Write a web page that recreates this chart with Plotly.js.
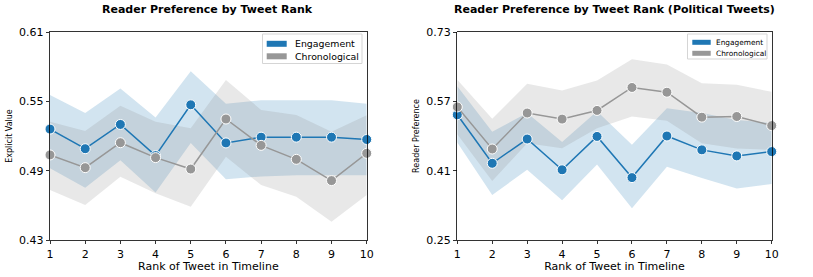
<!DOCTYPE html>
<html>
<head>
<meta charset="utf-8">
<script src="https://cdn.plot.ly/plotly-3.0.1.min.js"></script>
<style>html,body{margin:0;padding:0;background:#fff;}#chart{width:813px;height:277px;}</style>
</head>
<body>
<div id="chart"></div>
<script>
// Shared x categories
const ranks = [1, 2, 3, 4, 5, 6, 7, 8, 9, 10];

// Left panel: all tweets (Explicit Value)
const engAll      = [0.526, 0.509, 0.530, 0.503, 0.547, 0.514, 0.519, 0.519, 0.519, 0.517];
const engAllHi    = [0.5555, 0.540, 0.561, 0.536, 0.576, 0.548, 0.551, 0.551, 0.551, 0.548];
const engAllLo    = [0.492, 0.4753, 0.499, 0.471, 0.514, 0.4825, 0.485, 0.486, 0.486, 0.486];
const chrAll      = [0.5036, 0.4926, 0.5142, 0.5013, 0.4914, 0.5347, 0.5119, 0.4998, 0.4814, 0.505];
const chrAllHi    = [0.5324, 0.5243, 0.5462, 0.5324, 0.5267, 0.5685, 0.5425, 0.5382, 0.5237, 0.538];
const chrAllLo    = [0.4733, 0.4603, 0.4848, 0.4704, 0.4588, 0.502, 0.4776, 0.4675, 0.4459, 0.469];

// Right panel: political tweets (Reader Preference)
const engPol      = [0.539, 0.427, 0.483, 0.412, 0.489, 0.394, 0.490, 0.458, 0.444, 0.454];
const engPolHi    = [0.605, 0.500, 0.543, 0.476, 0.547, 0.470, 0.554, 0.543, 0.527, 0.520];
const engPolLo    = [0.475, 0.354, 0.412, 0.342, 0.424, 0.323, 0.419, 0.393, 0.369, 0.379];
const chrPol      = [0.557, 0.460, 0.543, 0.529, 0.549, 0.602, 0.591, 0.5335, 0.535, 0.514];
const chrPolHi    = [0.620, 0.530, 0.6105, 0.595, 0.618, 0.667, 0.655, 0.612, 0.608, 0.592];
const chrPolLo    = [0.494, 0.386, 0.4735, 0.462, 0.508, 0.535, 0.525, 0.473, 0.461, 0.458];

// Tick labels
const leftTicks  = [0.43, 0.49, 0.55, 0.61];
const rightTicks = [0.25, 0.41, 0.57, 0.73];

const seriesNames = ['Engagement', 'Chronological'];
const BLUE = '#1f77b4';
const GREY = '#979797';
const BLUE_BAND = 'rgba(31,119,180,0.2)';
const GREY_BAND = 'rgba(140,140,140,0.2)';
const seriesColors = [BLUE, GREY];

function band(hi, lo, color, xa, ya) {
  return [
    {x: ranks, y: hi, xaxis: xa, yaxis: ya, mode: 'lines', line: {width: 0, color: color}, hoverinfo: 'skip', showlegend: false},
    {x: ranks, y: lo, xaxis: xa, yaxis: ya, mode: 'lines', line: {width: 0, color: color}, fill: 'tonexty', fillcolor: color, hoverinfo: 'skip', showlegend: false}
  ];
}
function line(y, color, xa, ya, name) {
  return {x: ranks, y: y, xaxis: xa, yaxis: ya, mode: 'lines+markers', name: name,
    line: {color: color, width: 1.5},
    marker: {color: color, size: 10, line: {color: '#ffffff', width: 1}},
    showlegend: false, cliponaxis: false};
}

const data = [].concat(
  band(engAllHi, engAllLo, BLUE_BAND, 'x', 'y'),
  band(chrAllHi, chrAllLo, GREY_BAND, 'x', 'y'),
  [line(engAll, BLUE, 'x', 'y', seriesNames[0]), line(chrAll, GREY, 'x', 'y', seriesNames[1])],
  band(engPolHi, engPolLo, BLUE_BAND, 'x2', 'y2'),
  band(chrPolHi, chrPolLo, GREY_BAND, 'x2', 'y2'),
  [line(engPol, BLUE, 'x2', 'y2', seriesNames[0]), line(chrPol, GREY, 'x2', 'y2', seriesNames[1])]
);

const F = 'DejaVu Sans, sans-serif';
const W = 813, H = 277;
const px = v => v / W, py = v => 1 - v / H;

// Legend boxes (matplotlib-style, drawn with shapes + annotations)
const legends = [
  {box: [262.5, 34, 362, 63.5], patchX: [266.7, 286.7], rows: [43.8, 56.3], patchH: 6, textX: 293, size: 9.4},
  {box: [687.5, 34, 767, 59], patchX: [692.3, 710.7], rows: [42.3, 53.3], patchH: 5, textX: 714.3, size: 7.4}
];
const shapes = [], annotations = [];
legends.forEach(lg => {
  shapes.push({type: 'rect', xref: 'paper', yref: 'paper', x0: px(lg.box[0]), x1: px(lg.box[2]), y0: py(lg.box[3]), y1: py(lg.box[1]),
    line: {color: '#d5d5d5', width: 1}, fillcolor: 'rgba(255,255,255,0.8)', layer: 'above'});
  seriesNames.forEach((nm, i) => {
    const cy = lg.rows[i];
    shapes.push({type: 'rect', xref: 'paper', yref: 'paper', x0: px(lg.patchX[0]), x1: px(lg.patchX[1]),
      y0: py(cy + lg.patchH / 2), y1: py(cy - lg.patchH / 2), line: {width: 0}, fillcolor: seriesColors[i], layer: 'above'});
    annotations.push({text: nm, xref: 'paper', yref: 'paper', x: px(lg.textX), y: py(cy), xanchor: 'left', yanchor: 'middle',
      showarrow: false, font: {family: F, size: lg.size, color: '#000'}});
  });
});
annotations.push(
  {text: '<b>Reader Preference by Tweet Rank</b>', xref: 'paper', yref: 'paper', x: px(208), y: py(9),
   xanchor: 'center', yanchor: 'middle', showarrow: false, font: {family: F, size: 11, color: '#000'}},
  {text: '<b>Reader Preference by Tweet Rank (Political Tweets)</b>', xref: 'paper', yref: 'paper', x: px(614), y: py(10),
   xanchor: 'center', yanchor: 'middle', showarrow: false, font: {family: F, size: 11, color: '#000'}}
);

const xCommon = {
  range: [1, 10], tickvals: ranks, ticktext: ranks.map(String), ticks: 'outside', ticklen: 3.5, tickwidth: 0.8,
  tickcolor: '#000', showline: true, linecolor: '#000', linewidth: 0.8, mirror: true, showgrid: false,
  zeroline: false, tickfont: {family: F, size: 11, color: '#000'},
  title: {text: 'Rank of Tweet in Timeline', font: {family: F, size: 11, color: '#000'}, standoff: 2}
};
const yCommon = {
  ticks: 'outside', ticklen: 3.5, tickwidth: 0.8, tickcolor: '#000', showline: true, linecolor: '#000',
  linewidth: 0.8, mirror: true, showgrid: false, zeroline: false,
  tickfont: {family: F, size: 11, color: '#000'}
};

const layout = {
  width: W, height: H,
  margin: {l: 0, r: 0, t: 0, b: 0},
  paper_bgcolor: '#fff', plot_bgcolor: '#fff',
  showlegend: false,
  xaxis: Object.assign({}, xCommon, {domain: [px(50), px(366.7)], anchor: 'y'}),
  yaxis: Object.assign({}, yCommon, {domain: [py(240), py(32)], anchor: 'x', range: [0.43, 0.61],
    tickvals: leftTicks, ticktext: leftTicks.map(v => v.toFixed(2)),
    title: {text: 'Explicit Value', font: {family: F, size: 8, color: '#000'}, standoff: 5}}),
  xaxis2: Object.assign({}, xCommon, {domain: [px(457.3), px(771.7)], anchor: 'y2'}),
  yaxis2: Object.assign({}, yCommon, {domain: [py(240), py(32)], anchor: 'x2', range: [0.25, 0.73],
    tickvals: rightTicks, ticktext: rightTicks.map(v => v.toFixed(2)),
    title: {text: 'Reader Preference', font: {family: F, size: 8, color: '#000'}, standoff: 5}}),
  shapes: shapes,
  annotations: annotations
};

Plotly.newPlot('chart', data, layout, {displayModeBar: false, staticPlot: true});
</script>
</body>
</html>
